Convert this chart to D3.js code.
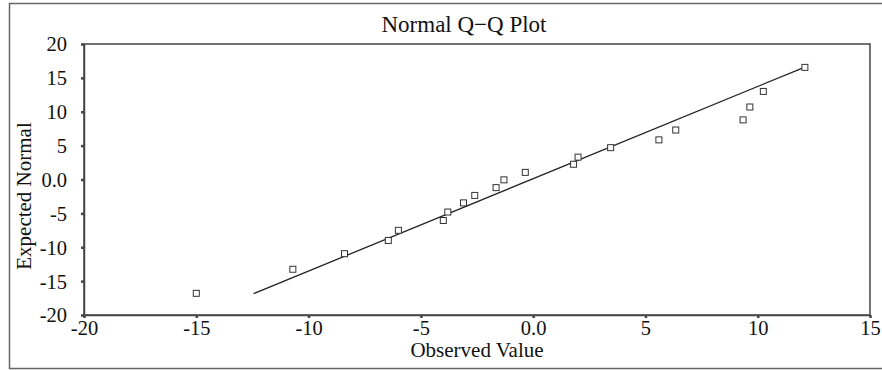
<!DOCTYPE html>
<html>
<head>
<meta charset="utf-8">
<script src="https://cdn.jsdelivr.net/npm/d3@7"></script>
<style>
  body { margin: 0; background: #fff; }
  svg { display: block; }
  text { font-family: "Liberation Serif", "DejaVu Serif", serif; fill: #111; }
</style>
</head>
<body>
<svg id="chart" width="882" height="370"></svg>
<script>
// data
const observed = [-15.0, -10.7, -8.4, -6.45, -6.0, -4.0, -3.8, -3.1, -2.6, -1.65, -1.3, -0.35, 1.8, 2.0, 3.45, 5.6, 6.35, 9.35, 9.65, 10.25, 12.1]
const expected = [-16.8, -13.25, -10.95, -9.0, -7.5, -6.05, -4.8, -3.45, -2.35, -1.2, -0.05, 1.05, 2.25, 3.3, 4.7, 5.85, 7.3, 8.8, 10.7, 13.0, 16.55]
const lineX = [-12.45, 12.1]
const lineY = [-16.85, 16.6]
const xTicks = [-20, -15, -10, -5, 0, 5, 10, 15]
const yTicks = [20, 15, 10, 5, 0, -5, -10, -15, -20]
const fmt = d => d === 0 ? "0.0" : String(d)

const svg = d3.select("#chart")
const m = {left: 84, right: 870, top: 44, bottom: 315}

// outer frame
svg.append("rect")
  .attr("x", 9.5).attr("y", 3.5).attr("width", 890).attr("height", 365)
  .attr("fill", "none").attr("stroke", "#666").attr("stroke-width", 1.5)

const x = d3.scaleLinear().domain([-20, 15]).range([m.left, m.right])
const y = d3.scaleLinear().domain([-20, 20]).range([m.bottom, m.top])

// plot box
svg.append("rect")
  .attr("x", m.left).attr("y", m.top).attr("width", m.right - m.left).attr("height", m.bottom - m.top)
  .attr("fill", "none").attr("stroke", "#444").attr("stroke-width", 1.5)

const xAxis = svg.append("g").attr("transform", `translate(0,${m.bottom})`)
  .call(d3.axisBottom(x).tickValues(xTicks).tickFormat(fmt).tickSize(3).tickSizeOuter(0).tickPadding(2))
const yAxis = svg.append("g").attr("transform", `translate(${m.left},0)`)
  .call(d3.axisLeft(y).tickValues(yTicks).tickFormat(fmt).tickSize(3).tickSizeOuter(0).tickPadding(14))

for (const g of [xAxis, yAxis]) {
  g.attr("font-family", "Liberation Serif").attr("font-size", 20.5)
  g.select(".domain").attr("stroke", "#444").attr("stroke-width", 1.5)
  g.selectAll(".tick line").attr("stroke", "#444").attr("stroke-width", 2.5)
  g.selectAll(".tick text").attr("fill", "#111")
}
yAxis.selectAll(".tick text").attr("dy", "0.34em")

// fitted line
svg.append("line")
  .attr("x1", x(lineX[0])).attr("y1", y(lineY[0]))
  .attr("x2", x(lineX[1])).attr("y2", y(lineY[1]))
  .attr("stroke", "#222").attr("stroke-width", 1.3)

// points
svg.selectAll("rect.pt").data(observed).enter().append("rect")
  .attr("class", "pt")
  .attr("x", d => x(d) - 3).attr("y", (d, i) => y(expected[i]) - 3)
  .attr("width", 6).attr("height", 6)
  .attr("fill", "#fff").attr("stroke", "#333").attr("stroke-width", 1)

// titles
svg.append("text").attr("x", 464).attr("y", 32).attr("text-anchor", "middle")
  .style("font-size", "23px").text("Normal Q\u2212Q Plot")
svg.append("text").attr("x", 477).attr("y", 357).attr("text-anchor", "middle")
  .style("font-size", "21px").text("Observed Value")
svg.append("text").attr("transform", "translate(31,196) rotate(-90)").attr("text-anchor", "middle")
  .style("font-size", "21px").text("Expected Normal")
</script>
</body>
</html>
